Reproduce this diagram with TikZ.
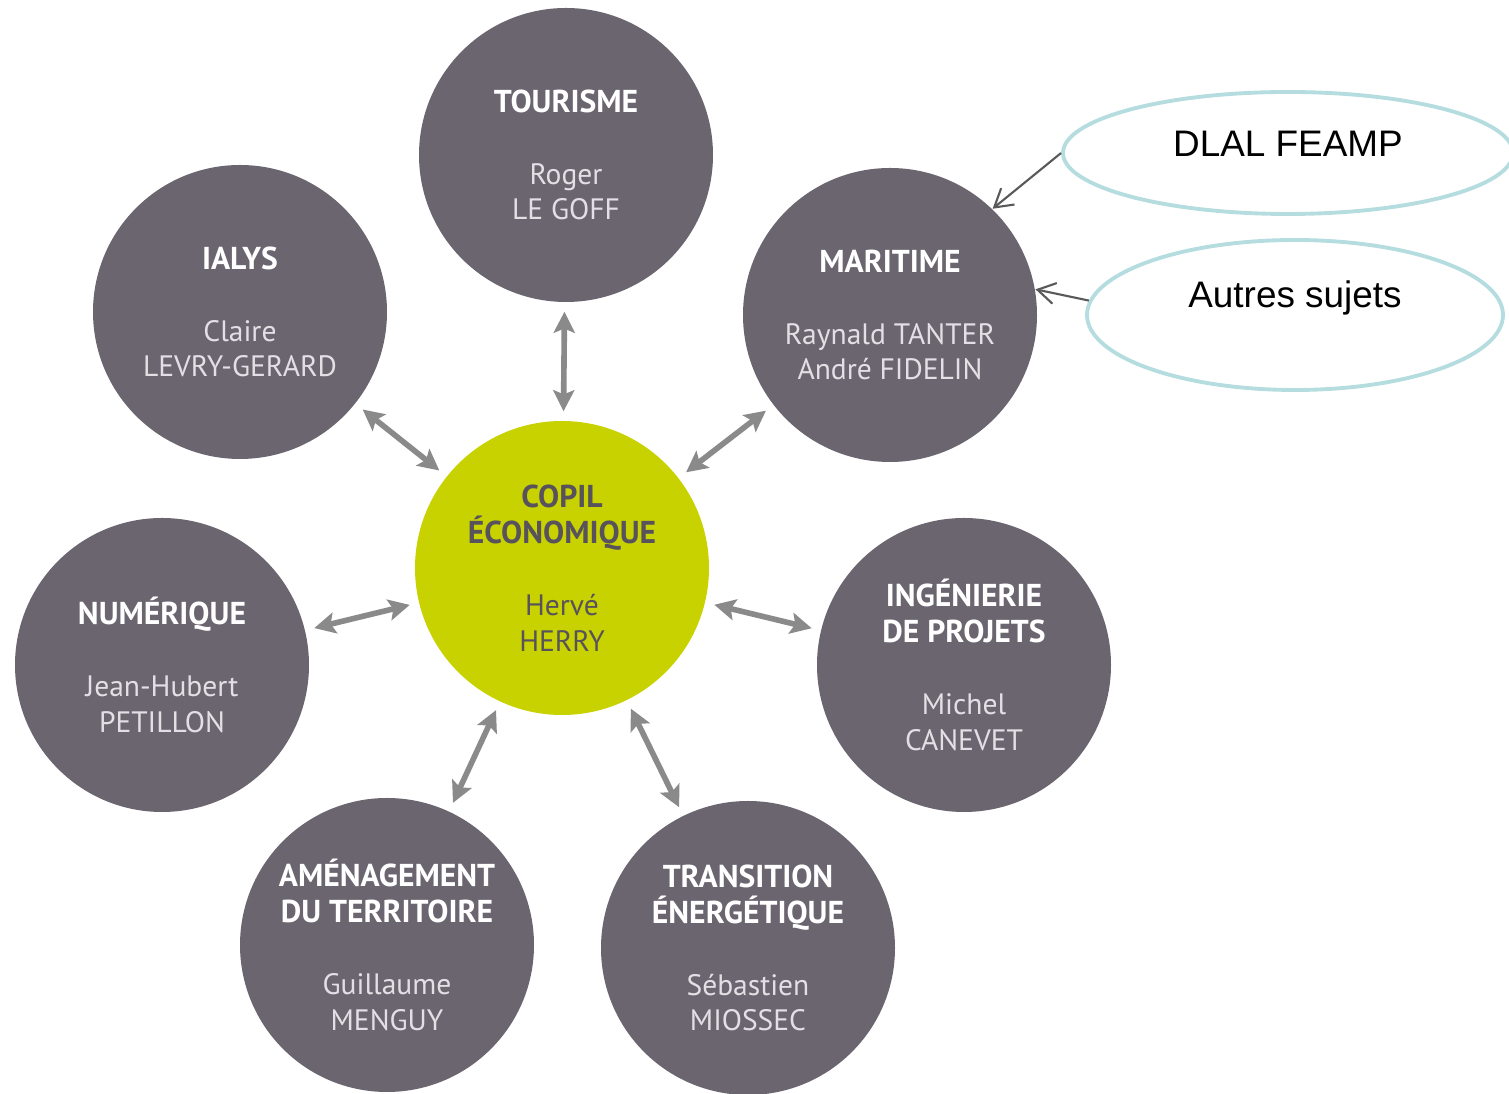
\documentclass[tikz,border=0pt]{standalone}
\usepackage{fontspec}
\setmainfont{PT Sans}
\newfontfamily\arialfont{Liberation Sans}
\usetikzlibrary{shapes.geometric,arrows.meta}
\definecolor{disc}{HTML}{6B6570}
\definecolor{copil}{HTML}{C8D200}
\definecolor{copiltext}{HTML}{57525C}
\definecolor{link}{HTML}{8A8A8A}
\definecolor{rim}{HTML}{B5DDE0}
\definecolor{pale}{HTML}{E2E0E5}
\newcommand{\head}[1]{{\fontsize{9}{10.2}\selectfont\bfseries\color{white}#1}}

\begin{document}
\begin{tikzpicture}[
	theme/.style={circle,fill=disc,minimum size=2.94cm,inner sep=0pt,align=center,text=pale,font=\fontsize{8.4}{10.2}\selectfont},
	core/.style={theme,fill=copil,text=copiltext},
	both/.style={{Stealth[length=6pt,width=6pt,inset=1.2pt]}-{Stealth[length=6pt,width=6pt,inset=1.2pt]},draw=link,line width=1.6pt,shorten <=0.09cm,shorten >=0.09cm},
	bubble/.style={ellipse,draw=rim,line width=1.1pt,inner sep=0pt,font=\arialfont\fontsize{10.5}{12}\selectfont,text height=0.27cm},
	hint/.style={-{Straight Barb[length=5pt,width=6pt]},draw=black!65,line width=0.6pt}
]
	\useasboundingbox (0,0) rectangle (15.09,10.94);
	\node[core](copil) at (5.62,5.26){\textbf{\fontsize{9}{10.2}\selectfont COPIL}\\\textbf{\fontsize{9}{10.2}\selectfont ÉCONOMIQUE}\\[0.36cm]Hervé\\HERRY};
	\node[theme](tourisme) at (5.66,9.39){\head{TOURISME}\\[0.36cm]Roger\\LE GOFF};
	\node[theme](ialys) at (2.40,7.82){\head{IALYS}\\[0.36cm]Claire\\LEVRY-GERARD};
	\node[theme](maritime) at (8.90,7.79){\head{MARITIME}\\[0.36cm]Raynald TANTER\\André FIDELIN};
	\node[theme](numerique) at (1.62,4.29){\head{NUMÉRIQUE}\\[0.36cm]Jean-Hubert\\PETILLON};
	\node[theme](ingenierie) at (9.64,4.29){\head{INGÉNIERIE}\\\head{DE PROJETS}\\[0.36cm]Michel\\CANEVET};
	\node[theme](amenagement) at (3.87,1.49){\head{AMÉNAGEMENT}\\\head{DU TERRITOIRE}\\[0.36cm]Guillaume\\MENGUY};
	\node[theme](transition) at (7.48,1.46){\head{TRANSITION}\\\head{ÉNERGÉTIQUE}\\[0.36cm]Sébastien\\MIOSSEC};
	\node[bubble,minimum width=4.5cm,minimum height=1.22cm,text depth=0.19cm](dlal) at (12.88,9.41){DLAL FEAMP};
	\node[bubble,minimum width=4.16cm,minimum height=1.5cm,text depth=0.41cm](autres) at (12.95,7.79){Autres sujets};
	\draw[both](copil)--(tourisme);
	\draw[both](copil)--(ialys);
	\draw[both](copil)--(maritime);
	\draw[both](copil)--(numerique);
	\draw[both](copil)--(ingenierie);
	\draw[both](copil)--(amenagement);
	\draw[both](copil)--(transition);
	\draw[hint](dlal.west)--(maritime.46);
	\draw[hint](autres.176)--(maritime.10);
\end{tikzpicture}
\end{document}
